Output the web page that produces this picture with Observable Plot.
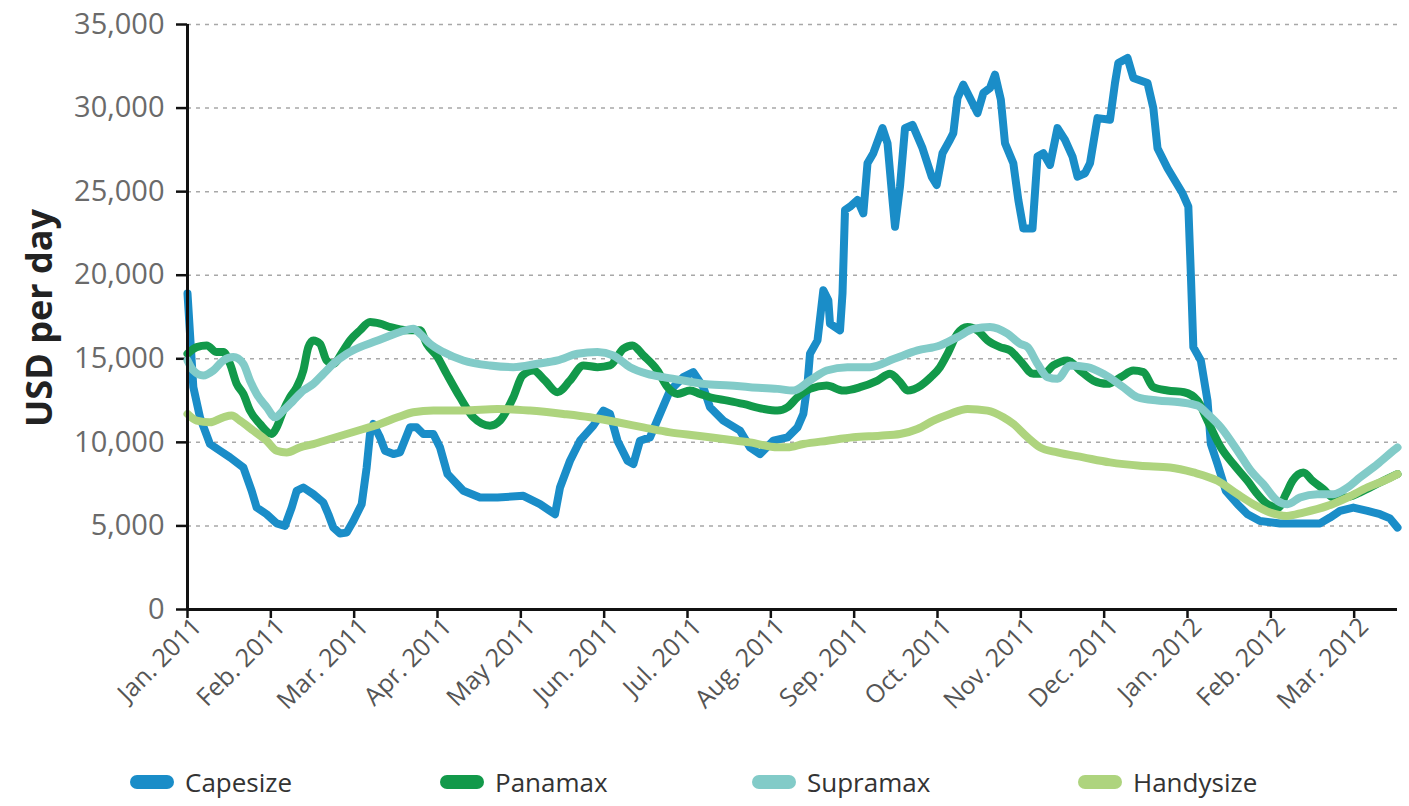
<!DOCTYPE html>
<html><head><meta charset="utf-8">
<script src="https://cdn.jsdelivr.net/npm/d3@7"></script>
<script src="https://cdn.jsdelivr.net/npm/@observablehq/plot@0.6"></script>
<style>
body{margin:0;background:#fff;font-family:"Open Sans",sans-serif;}
#wrap{position:relative;width:1409px;height:806px;overflow:hidden;}
#ylabel{position:absolute;left:38px;top:318px;transform:translate(-50%,-50%) rotate(-90deg);font-weight:700;font-size:36px;color:#222;white-space:nowrap;}
#legend{position:absolute;top:762px;left:0;width:1409px;height:40px;}
.item{position:absolute;top:0;display:flex;align-items:center;font-size:26px;color:#333;height:40px;}
.sw{width:44px;height:14px;border-radius:7px;margin-right:11px;}
</style></head><body>
<div id="wrap"><div id="chart"></div><div id="ylabel">USD per day</div><div id="legend"></div></div>
<script>
const monthLabels = ["Jan. 2011","Feb. 2011","Mar. 2011","Apr. 2011","May 2011","Jun. 2011","Jul. 2011","Aug. 2011","Sep. 2011","Oct. 2011","Nov. 2011","Dec. 2011","Jan. 2012","Feb. 2012","Mar. 2012"];
const yTicks = [0,5000,10000,15000,20000,25000,30000,35000];
const seriesNames = ["Capesize","Panamax","Supramax","Handysize"];
const seriesColors = ["#1a8dc8","#12994a","#82cbc8","#aed47e"];

// x values are months since Jan. 2011 (0 = Jan. 2011)
const capesizeMonths = [0,0.07,0.15,0.27,0.39,0.51,0.67,0.77,0.83,0.95,1.07,1.17,1.25,1.31,1.39,1.51,1.63,1.69,1.75,1.83,1.91,1.99,2.09,2.15,2.19,2.23,2.31,2.37,2.47,2.55,2.67,2.75,2.83,2.95,3.03,3.12,3.31,3.51,3.72,4.03,4.23,4.35,4.41,4.47,4.59,4.71,4.87,4.99,5.07,5.16,5.28,5.35,5.43,5.55,5.67,5.79,5.95,6.07,6.19,6.27,6.43,6.63,6.75,6.87,7.03,7.20,7.32,7.39,7.44,7.47,7.56,7.63,7.69,7.71,7.83,7.86,7.89,7.95,8.04,8.11,8.16,8.23,8.34,8.40,8.46,8.49,8.55,8.61,8.70,8.82,8.93,8.99,9.06,9.15,9.19,9.24,9.31,9.39,9.48,9.55,9.63,9.69,9.76,9.81,9.91,9.97,10.03,10.14,10.20,10.27,10.35,10.44,10.53,10.62,10.68,10.77,10.83,10.92,11.07,11.13,11.17,11.28,11.35,11.52,11.59,11.64,11.76,11.94,12.01,12.04,12.07,12.16,12.24,12.28,12.36,12.46,12.60,12.72,12.87,13.11,13.39,13.59,13.71,13.83,13.99,14.16,14.31,14.43,14.52];
const capesizeValues = [18900,13300,11500,9900,9500,9100,8500,7100,6100,5700,5150,5000,6100,7100,7300,6900,6400,5700,4900,4550,4600,5300,6300,8500,10500,11100,10300,9500,9300,9400,10900,10900,10500,10500,9700,8100,7100,6700,6700,6800,6300,5900,5700,7300,8900,10100,11000,11900,11700,10100,8900,8700,10100,10300,11700,13100,13900,14200,13300,12100,11300,10700,9700,9300,10100,10300,10900,11700,13500,15300,16100,19100,18500,17100,16700,18900,23900,24100,24500,23700,26700,27300,28800,27900,24500,22900,25300,28800,29000,27600,25900,25400,27300,28100,28500,30600,31400,30600,29700,30900,31200,32000,30500,27900,26700,24500,22800,22800,27100,27300,26600,28800,28100,27100,25900,26100,26700,29400,29300,31500,32700,33000,31800,31500,30000,27600,26400,24900,24100,20100,15700,14900,12500,9900,8700,7100,6300,5700,5300,5150,5150,5150,5500,5900,6100,5900,5700,5450,4900];

const panamaxMonths = [0,0.11,0.23,0.35,0.43,0.51,0.59,0.67,0.75,0.87,1.01,1.07,1.15,1.23,1.31,1.39,1.45,1.51,1.59,1.67,1.75,1.87,1.95,2.07,2.19,2.31,2.43,2.64,2.79,2.87,3.00,3.11,3.27,3.43,3.63,3.75,3.91,4.02,4.15,4.29,4.44,4.59,4.75,4.92,5.07,5.23,5.34,5.47,5.64,5.76,5.88,6.03,6.15,6.27,6.48,6.67,6.91,7.08,7.20,7.32,7.47,7.67,7.87,8.07,8.28,8.43,8.55,8.64,8.80,8.92,9.03,9.12,9.24,9.36,9.48,9.60,9.75,9.87,9.99,10.15,10.27,10.39,10.56,10.71,10.87,11.04,11.20,11.35,11.47,11.59,11.76,11.96,12.12,12.24,12.40,12.55,12.72,12.84,12.96,13.09,13.18,13.26,13.39,13.50,13.63,13.75,13.89,14.07,14.31,14.52];
const panamaxValues = [15300,15700,15800,15400,15400,14700,13500,12900,11900,11100,10500,10900,11900,12700,13300,14300,15700,16100,15900,14900,14700,15500,16100,16700,17200,17100,16900,16700,16700,15900,15100,14100,12700,11500,11000,11300,12700,14000,14300,13700,13000,13700,14600,14500,14600,15600,15800,15200,14300,13300,12900,13100,12900,12700,12500,12300,12000,11900,12100,12700,13200,13400,13100,13300,13700,14100,13600,13100,13400,13900,14500,15300,16500,16900,16700,16100,15700,15500,14900,14100,14100,14600,14900,14300,13700,13500,13900,14300,14200,13300,13100,13000,12500,11300,9700,8700,7700,6900,6300,6100,6900,7700,8200,7700,7200,6700,6700,7000,7600,8100];

const supramaxMonths = [0,0.07,0.19,0.31,0.43,0.55,0.67,0.75,0.83,0.95,1.05,1.15,1.27,1.39,1.51,1.63,1.75,1.91,2.07,2.23,2.39,2.55,2.71,2.79,2.91,3.07,3.31,3.63,3.91,4.20,4.44,4.68,4.92,5.11,5.31,5.52,5.71,5.95,6.19,6.51,6.75,7.08,7.27,7.47,7.67,7.92,8.19,8.48,8.76,9.03,9.24,9.44,9.63,9.84,9.99,10.08,10.20,10.32,10.44,10.59,10.80,10.99,11.23,11.40,11.64,11.91,12.12,12.24,12.40,12.60,12.76,12.91,13.08,13.20,13.35,13.56,13.75,13.92,14.07,14.28,14.47,14.52];
const supramaxValues = [14900,14300,14000,14300,14900,15100,14700,13700,12900,12100,11500,11900,12500,13100,13500,14100,14700,15300,15700,16000,16300,16600,16800,16500,15900,15400,14900,14600,14500,14700,14900,15300,15400,15200,14500,14100,13900,13700,13500,13400,13300,13200,13100,13700,14300,14500,14500,15000,15500,15800,16300,16800,16900,16500,15900,15700,14700,13900,13800,14600,14500,14100,13300,12700,12500,12400,12200,11700,10900,9500,8300,7500,6500,6300,6700,6900,6900,7300,7900,8700,9500,9700];

const handysizeMonths = [0,0.11,0.27,0.43,0.53,0.63,0.79,0.95,1.07,1.19,1.35,1.51,1.71,1.91,2.11,2.31,2.52,2.71,2.95,3.31,3.72,4.11,4.51,4.83,5.16,5.47,5.79,6.12,6.43,6.75,7.08,7.20,7.39,7.68,7.99,8.31,8.55,8.76,8.95,9.15,9.36,9.60,9.79,9.91,10.08,10.23,10.44,10.75,11.07,11.43,11.79,12.07,12.36,12.60,12.79,12.99,13.19,13.39,13.68,13.92,14.16,14.40,14.52];
const handysizeValues = [11700,11300,11200,11500,11600,11300,10700,10100,9500,9400,9700,9900,10200,10500,10800,11100,11500,11800,11900,11900,12000,11900,11700,11500,11200,10900,10600,10400,10200,10000,9700,9700,9900,10100,10300,10400,10500,10800,11300,11700,12000,11900,11500,11100,10300,9700,9400,9100,8800,8600,8500,8200,7700,6900,6300,5800,5600,5800,6200,6700,7300,7800,8100];

const xEnd = 14.52;
const monthTicks = d3.range(monthLabels.length);
const toRows = (months, values) => months.map((m, i) => ({m, v: values[i]}));
const cape = toRows(capesizeMonths, capesizeValues);
const pana = toRows(panamaxMonths, panamaxValues);
const supra = toRows(supramaxMonths, supramaxValues);
const handy = toRows(handysizeMonths, handysizeValues);

const lineOpts = (color, curve) => ({x: "m", y: "v", stroke: color, strokeWidth: 8, strokeLinejoin: "round", strokeLinecap: "round", curve});

const chart = Plot.plot({
  width: 1409, height: 740,
  marginLeft: 187, marginRight: 12, marginTop: 24, marginBottom: 131,
  x: {domain: [0, xEnd]},
  y: {domain: [0, 35000]},
  style: {fontFamily: "'Open Sans', sans-serif", background: "white", overflow: "visible"},
  marks: [
    Plot.gridY(yTicks.filter(d => d > 0), {stroke: "#a8a8a8", strokeOpacity: 1, strokeWidth: 1.5, strokeDasharray: "4,5"}),
    Plot.axisY(yTicks, {tickSize: 11, tickPadding: 12, tickFormat: d3.format(","), stroke: "#111", strokeWidth: 2.5, fill: "#6a6a6a", fontSize: 29, label: null}),
    // tick marks only
    Plot.axisX(monthTicks, {tickSize: 9, tickFormat: () => "", stroke: "#111", strokeWidth: 2.5, label: null}),
    // rotated labels, nudged right like the reference
    Plot.axisX(monthTicks, {tickSize: 0, tickPadding: 13, tickRotate: -45, tickFormat: i => monthLabels[i], fill: "#555", fontSize: 25, dx: 10, label: null}),
    Plot.line(cape, lineOpts(seriesColors[0], "linear")),
    Plot.line(pana, lineOpts(seriesColors[1], "monotone-x")),
    Plot.line(supra, lineOpts(seriesColors[2], "monotone-x")),
    Plot.line(handy, lineOpts(seriesColors[3], "monotone-x")),
    Plot.ruleY([0], {stroke: "#111", strokeWidth: 3}),
    Plot.ruleX([0], {stroke: "#111", strokeWidth: 3})
  ]
});
document.getElementById("chart").appendChild(chart);

const legendLeft = [130, 440, 752, 1078];
const legend = document.getElementById("legend");
seriesNames.forEach((name, i) => {
  const item = document.createElement("div");
  item.className = "item";
  item.style.left = legendLeft[i] + "px";
  const sw = document.createElement("div");
  sw.className = "sw";
  sw.style.background = seriesColors[i];
  const t = document.createElement("span");
  t.textContent = name;
  item.appendChild(sw); item.appendChild(t);
  legend.appendChild(item);
});
</script>
</body></html>
